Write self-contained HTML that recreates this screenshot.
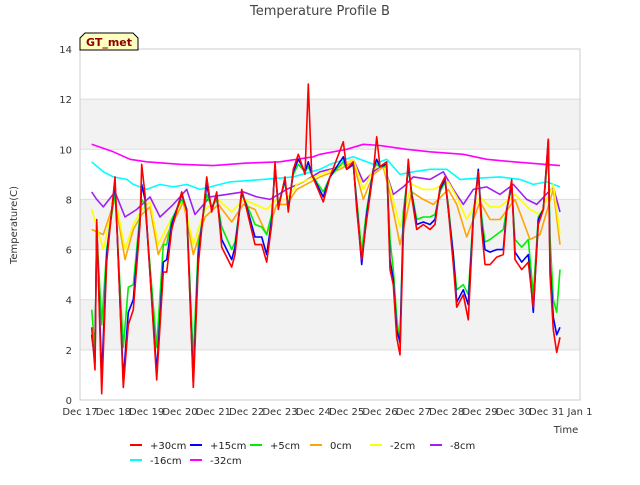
<!DOCTYPE html>
<html><head><meta charset="utf-8"><style>
body{margin:0;background:#fff;font-family:"Liberation Sans","DejaVu Sans",sans-serif}
</style></head><body>
<svg width="640" height="480" xmlns="http://www.w3.org/2000/svg" id="chart" font-family="DejaVu Sans, Liberation Sans, sans-serif">
<text x="320" y="15" text-anchor="middle" font-size="13" fill="#444">Temperature Profile B</text>
<text x="17" y="225" text-anchor="middle" font-size="10" fill="#333" transform="rotate(-90 17 225)">Temperature(C)</text>
<text x="566" y="433" text-anchor="middle" font-size="10" fill="#333">Time</text>
<g id="grid"></g>
<g id="axes"></g>
<g id="series"></g>
<g>
<path d="M80,50 L80,38 L85,33 L133,33 L138,38 L138,50 Z" fill="#ffffc0" stroke="#000" stroke-width="1"/>
<text x="109" y="46" text-anchor="middle" font-size="11" font-weight="bold" fill="#8b0000">GT_met</text>
</g>
<g id="legend"></g>
</svg>
<script>
const yTicks=[0,2,4,6,8,10,12,14];
const xTickLabels=["Dec 17","Dec 18","Dec 19","Dec 20","Dec 21","Dec 22","Dec 23","Dec 24","Dec 25","Dec 26","Dec 27","Dec 28","Dec 29","Dec 30","Dec 31","Jan 1"];
const seriesNames=["+30cm","+15cm","+5cm","0cm","-2cm","-8cm","-16cm","-32cm"];
const tS=[0.35,0.45,0.5,0.65,0.8,1.05,1.3,1.45,1.6,1.8,1.85,1.95,2.3,2.5,2.6,2.75,3.05,3.2,3.4,3.55,3.8,3.95,4.1,4.25,4.55,4.65,4.85,5.0,5.25,5.45,5.6,5.75,5.85,5.95,6.15,6.25,6.4,6.55,6.75,6.85,6.95,7.3,7.5,7.9,8.0,8.2,8.3,8.45,8.6,8.8,8.9,9.0,9.2,9.3,9.4,9.5,9.6,9.7,9.85,9.95,10.1,10.3,10.5,10.65,10.8,10.95,11.05,11.2,11.3,11.5,11.65,11.8,11.95,12.05,12.15,12.3,12.5,12.7,12.8,12.95,13.05,13.25,13.45,13.6,13.75,13.9,14.05,14.1,14.2,14.3,14.4];
const v30=[2.9,1.2,7.2,0.25,5.5,8.9,0.5,3.0,3.6,7.0,9.4,8.2,0.8,5.1,5.1,6.8,8.3,7.5,0.5,5.4,8.9,7.5,8.3,6.1,5.3,5.8,8.4,7.6,6.2,6.2,5.5,7.0,9.5,7.6,8.9,7.5,9.2,9.8,9.0,12.6,9.0,7.9,8.9,10.3,9.2,9.5,7.6,5.6,7.2,9.1,10.5,9.3,9.5,5.2,4.6,2.5,1.8,6.6,9.6,8.1,6.8,7.0,6.8,7.0,8.5,8.9,7.6,5.4,3.7,4.2,3.2,7.2,9.1,6.8,5.4,5.4,5.7,5.8,7.5,8.8,5.6,5.2,5.5,3.7,7.0,7.6,10.4,5.0,2.8,1.9,2.5];
const v15=[2.6,1.5,7.0,0.9,5.8,8.7,0.8,3.5,4.0,7.2,8.6,8.0,1.1,5.5,5.6,7.0,8.2,7.6,0.7,5.8,8.6,7.6,8.2,6.4,5.6,6.1,8.3,7.7,6.5,6.5,5.8,7.2,9.3,7.7,8.8,7.6,9.1,9.6,9.1,9.5,9.0,8.1,8.9,9.7,9.2,9.4,7.8,5.4,7.4,9.2,9.6,9.3,9.4,5.6,4.8,2.8,2.3,7.0,9.4,8.2,7.0,7.1,7.0,7.2,8.4,8.8,7.6,5.8,3.9,4.4,3.8,7.3,9.2,7.0,6.0,5.9,6.0,6.0,7.6,8.6,5.9,5.5,5.8,3.5,7.2,7.6,10.4,5.4,3.3,2.6,2.9];
const v5=[3.6,2.0,6.8,3.0,6.0,8.3,2.1,4.5,4.6,7.4,8.0,7.8,2.1,6.2,6.2,7.2,8.0,7.6,1.6,6.2,8.2,7.7,8.0,6.9,6.0,6.3,8.2,7.8,7.0,6.9,6.6,7.4,9.2,7.8,8.7,7.7,9.0,9.4,9.1,9.3,9.0,8.3,8.9,9.5,9.2,9.4,8.0,5.9,7.6,9.2,9.4,9.3,9.3,6.4,5.2,3.3,2.2,7.5,9.2,8.3,7.2,7.3,7.3,7.4,8.3,8.7,7.8,5.8,4.4,4.6,4.2,7.4,9.0,7.3,6.3,6.4,6.6,6.8,7.6,8.5,6.4,6.1,6.4,4.2,7.3,7.6,10.0,6.5,4.0,3.5,5.2];
const t0=[0.35,0.7,1.05,1.35,1.6,1.85,2.1,2.35,2.65,3.1,3.4,3.75,4.15,4.55,4.9,5.25,5.6,5.9,6.2,6.5,7.2,7.8,8.2,8.5,8.8,9.1,9.3,9.6,9.95,10.3,10.6,11.05,11.3,11.6,12.0,12.3,12.6,13.05,13.5,13.8,14.2,14.4];
const v0=[6.8,6.6,8.0,5.6,6.8,7.4,7.7,5.8,6.7,7.9,5.8,7.3,7.8,7.1,7.8,7.6,6.6,7.8,7.8,8.4,8.9,9.2,9.5,8.0,9.0,9.3,8.2,6.2,8.3,8.0,7.8,8.4,7.8,6.5,7.9,7.2,7.2,8.0,6.4,6.6,8.4,6.2];
const vm2=[7.6,6.0,8.1,6.0,7.0,7.6,7.9,6.2,7.0,8.0,6.2,7.6,8.0,7.5,8.0,7.8,7.6,8.0,8.0,8.6,9.0,9.3,9.6,8.4,9.2,9.4,8.5,6.9,8.6,8.4,8.4,8.7,8.1,7.2,8.1,7.7,7.7,8.2,7.6,7.4,8.6,6.6];
const t8=[0.35,0.5,0.7,1.05,1.35,1.7,2.1,2.4,2.8,3.2,3.45,3.9,4.4,4.9,5.3,5.7,6.2,6.7,7.2,7.8,8.2,8.5,8.8,9.1,9.4,9.7,10.0,10.5,10.9,11.2,11.5,11.8,12.2,12.6,13.0,13.4,13.7,14.2,14.4];
const vm8=[8.3,8.0,7.7,8.3,7.3,7.6,8.1,7.3,7.8,8.4,7.4,8.1,8.2,8.3,8.1,8.0,8.4,8.7,9.1,9.3,9.6,8.7,9.1,9.4,8.2,8.5,8.9,8.8,9.1,8.4,7.8,8.4,8.5,8.2,8.6,8.0,7.8,8.5,7.5];
const t16=[0.35,0.7,1.0,1.4,1.6,2.0,2.4,2.8,3.2,3.6,4.5,5.5,6.4,7.2,7.5,8.2,8.8,9.2,9.6,10.0,10.5,11.0,11.4,12.0,12.6,13.2,13.6,14.0,14.4];
const vm16=[9.5,9.1,8.9,8.8,8.6,8.4,8.6,8.5,8.6,8.4,8.7,8.8,8.9,9.2,9.4,9.7,9.4,9.6,9.0,9.1,9.2,9.2,8.8,8.85,8.9,8.8,8.6,8.7,8.5];
const t32=[0.35,1.0,1.5,2.0,3.0,4.0,5.0,6.0,7.0,7.2,8.0,8.5,9.0,9.8,10.5,11.5,12.2,13.0,14.4];
const vm32=[10.2,9.9,9.6,9.5,9.4,9.35,9.45,9.5,9.7,9.8,10.0,10.2,10.15,10.0,9.9,9.8,9.6,9.5,9.35];

const NS="http://www.w3.org/2000/svg";
const X0=80,X1=580,Y0=400,Y1=49;
const xs=d=>X0+(X1-X0)*d/15;
const ys=v=>Y0-(Y0-Y1)*v/14;
function mk(tag,attrs,parent){const e=document.createElementNS(NS,tag);for(const k in attrs)e.setAttribute(k,attrs[k]);parent.appendChild(e);return e;}
const grid=document.getElementById('grid'),axes=document.getElementById('axes'),ser=document.getElementById('series'),leg=document.getElementById('legend');
for(let i=0;i<yTicks.length-1;i++){
  if(i%2===1){const r=mk('rect',{x:X0,y:ys(yTicks[i+1]),width:X1-X0,height:ys(yTicks[i])-ys(yTicks[i+1]),fill:'#f2f2f2'},grid);
  
  }
}
yTicks.forEach(v=>{
  const l=mk('line',{x1:X0,x2:X1,y1:ys(v),y2:ys(v),stroke:'#ddd','stroke-width':1},grid);
  
  
  const t=mk('text',{x:X0-8,y:ys(v)+4,'text-anchor':'end','font-size':10,fill:'#333'},axes);
  t.textContent=v;
  
  
});
const fr=mk('rect',{x:X0,y:Y1,width:X1-X0,height:Y0-Y1,fill:'none',stroke:'#ccc'},axes);


xTickLabels.forEach((s,i)=>{
  const t=mk('text',{x:xs(i),y:415,'text-anchor':'middle','font-size':10,fill:'#333'},axes);
  t.textContent=s;
  
  
});
const colors=['#ff0000','#0000ff','#00ee00','#ffa500','#ffff00','#a020f0','#00ffff','#ff00ff'];
const data=[[tS,v30],[tS,v15],[tS,v5],[t0,v0],[t0,vm2],[t8,vm8],[t16,vm16],[t32,vm32]];
const order=[7,6,5,3,4,2,1,0];
order.forEach(i=>{
  const [t,v]=data[i];const n=Math.min(t.length,v.length);
  let d='';for(let k=0;k<n;k++)d+=(k?'L':'M')+xs(t[k]).toFixed(1)+','+ys(v[k]).toFixed(1);
  const p=mk('path',{d:d,fill:'none',stroke:colors[i],'stroke-width':1.6,'stroke-linejoin':'round'},ser);
  
  
});
seriesNames.forEach((s,i)=>{
  const row=i<6?0:1,col=i<6?i:i-6;
  const x=130+col*60,y=row?460:445;
  const g=mk('g',{},leg);
  
  
  mk('line',{x1:x,x2:x+12,y1:y,y2:y,stroke:colors[i],'stroke-width':2},g);
  const t=mk('text',{x:x+20,y:y+4,'font-size':10,fill:'#222'},g);
  t.textContent=s;
});
</script>
</body></html>
